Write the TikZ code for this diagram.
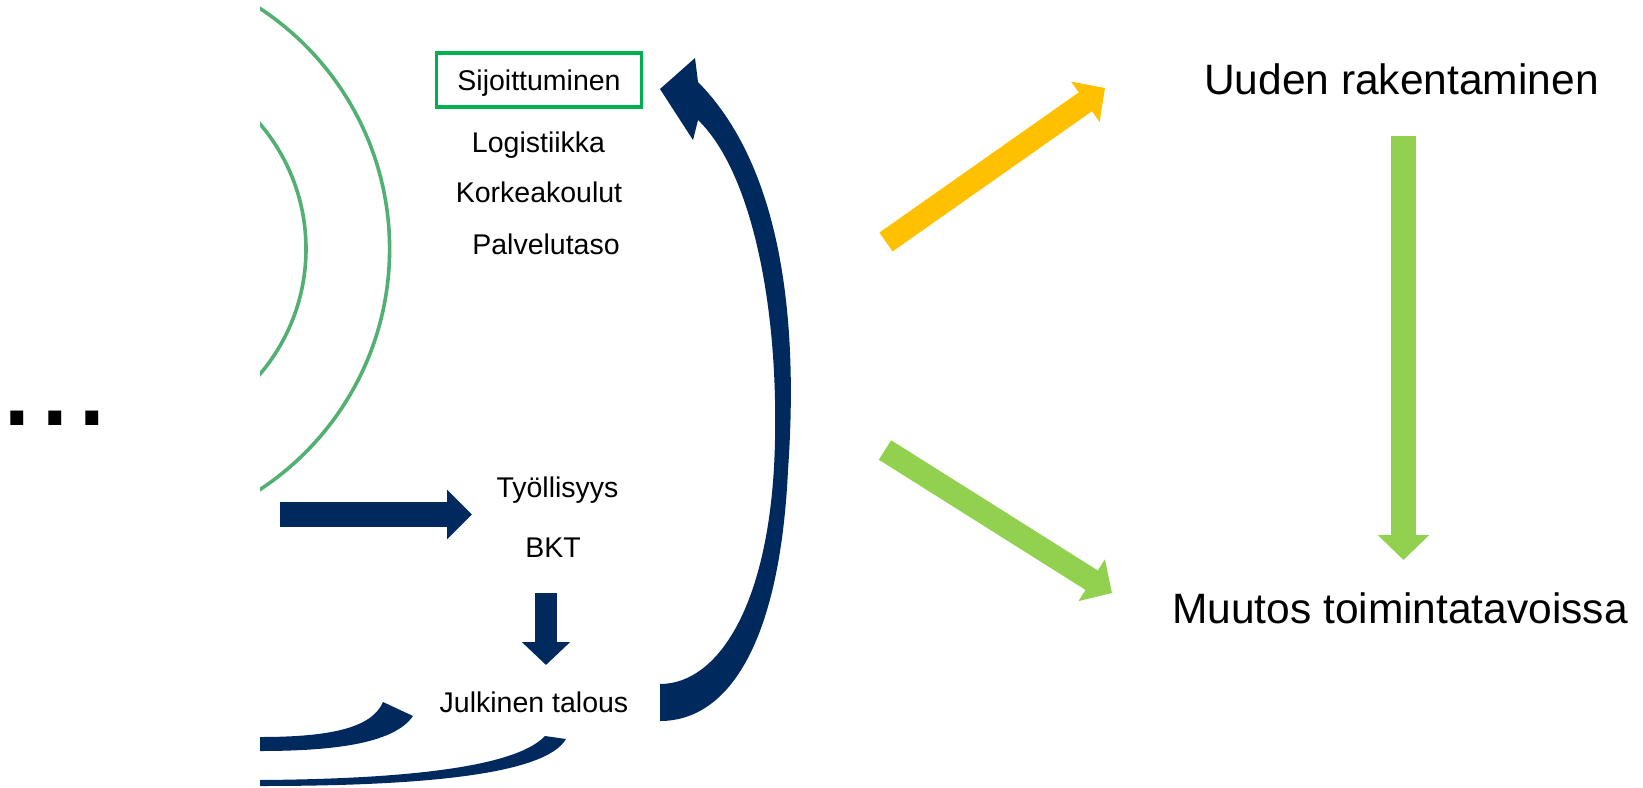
\documentclass[tikz,border=0pt]{standalone}
\usepackage{fontspec}
\setmainfont{Liberation Sans}
\usepackage{tikz}
\usetikzlibrary{arrows.meta}

\definecolor{darknavy}{RGB}{0,41,94}
\definecolor{ringgreen}{RGB}{82,176,114}
\definecolor{boxgreen}{RGB}{0,176,80}
\definecolor{goldyellow}{RGB}{255,192,0}
\definecolor{limegreen}{RGB}{146,208,80}

\begin{document}
\begin{tikzpicture}[
    x=1pt, y=-1pt,
    item/.style={
        font=\fontsize{28.5}{34}\selectfont,
        inner sep=0pt,
        anchor=base
    },
    headline/.style={
        font=\fontsize{42.5}{50}\selectfont,
        inner sep=0pt,
        anchor=base
    },
    ring/.style={
        draw=ringgreen,
        line width=3.6pt
    },
    navyarrow/.style={
        color=darknavy,
        line width=25pt,
        -{Triangle[length=25pt, width=48pt]}
    },
    fatarrow/.style={
        line width=23pt,
        -{Triangle[length=24pt, width=48pt]}
    }
]

\fill[white] (0,0) rectangle (1643,787);
\useasboundingbox (0,0) rectangle (1643,787);

% Dots on the left
\node[anchor=base west, inner sep=0pt, font=\fontsize{135}{140}\selectfont] (dots) at (-1.3,425) {...};

% Rings
\begin{scope}
\clip (260,0) rectangle (1643,787);
\draw[ring] (101.6,249) circle[radius=288pt];
\draw[ring] (113,249) circle[radius=193pt];
\end{scope}

% Items
\node[item, draw=boxgreen, line width=3.2pt, inner xsep=21pt,
      text height=37pt, text depth=17pt] (sijoit) at (539,90) {Sijoittuminen};
\node[item] (logist) at (538.5,152) {Logistiikka};
\node[item] (korkea) at (539,202) {Korkeakoulut};
\node[item] (palvelu) at (546,254) {Palvelutaso};
\node[item] (tyoll) at (557.5,497) {Työllisyys};
\node[item] (bkt) at (553,557) {BKT};
\node[item] (julk) at (534,712) {Julkinen talous};

\node[headline] (uuden) at (1401.5,94) {Uuden rakentaminen};
\node[headline] (muutos) at (1400,623) {Muutos toimintatavoissa};

% Arrow ends
\coordinate (tyollIn) at (280,514.5);
\coordinate (tyollOut) at (472,514.5);
\coordinate (bktOut) at (546,593);
\coordinate (julkIn) at (546,665);
\coordinate (uudenIn) at (886,242);
\coordinate (uudenTip) at (1105,88);
\coordinate (muutosIn) at (885,450);
\coordinate (muutosTip) at (1112,593);
\coordinate (uudenOut) at (1403.5,136);
\coordinate (muutosTop) at (1403.5,560);

% Straight arrows
\draw[navyarrow] (tyollIn) -- (tyollOut);
\draw[navyarrow, line width=22pt, -{Triangle[length=23pt, width=47pt]}] (bktOut) -- (julkIn);
\draw[fatarrow, color=goldyellow] (uudenIn) -- (uudenTip);
\draw[fatarrow, color=limegreen] (muutosIn) -- (muutosTip);
\draw[fatarrow, color=limegreen, line width=25pt, -{Triangle[length=25pt, width=50pt]}] (uudenOut) -- (muutosTop);

% Curved arrow back to Sijoittuminen
\fill[darknavy] (660,721) .. controls (730,721) and (780,640) .. (788,470)
    .. controls (800,300) and (775,160) .. (698,82)
    -- (695,58) -- (660,89) -- (693,140) -- (698,120)
    .. controls (750,170) and (778,300) .. (775,440)
    .. controls (772,600) and (720,684) .. (660,684) -- cycle;

% Bands under Julkinen talous
\fill[darknavy] (260,737) .. controls (330,737) and (372,728) .. (383,702)
    -- (413,716) .. controls (395,742) and (340,751) .. (260,751) -- cycle;
\fill[darknavy] (260,780) .. controls (400,779) and (515,768) .. (545,736)
    -- (566,739) .. controls (545,775) and (420,786) .. (260,786) -- cycle;

\end{tikzpicture}
\end{document}
